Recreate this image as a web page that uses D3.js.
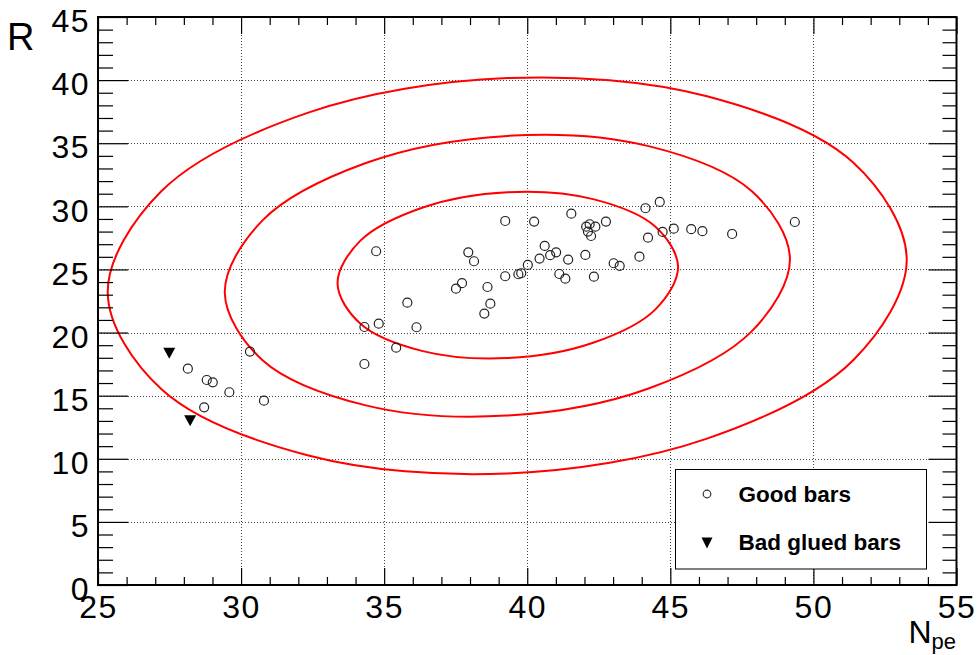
<!DOCTYPE html>
<html>
<head>
<meta charset="utf-8">
<script src="https://cdn.jsdelivr.net/npm/d3@7"></script>
<style>
  body { margin: 0; background: #fff; }
  svg { display: block; font-family: "Liberation Sans", Arial, sans-serif; }
</style>
</head>
<body>
<div id="chart"></div>
<script>
// measured points, [Npe, R]
var goodBars = [
    [28.14, 17.14], [28.80, 16.24], [29.01, 16.06], [29.59, 15.27], [28.71, 14.08],
    [30.31, 18.49], [30.80, 14.60],
    [34.72, 26.44], [37.94, 26.36], [38.14, 25.65], [34.31, 20.44], [34.81, 20.70],
    [36.13, 20.42], [35.81, 22.37], [35.42, 18.80], [34.31, 17.51], [37.72, 23.91],
    [37.51, 23.48], [38.61, 23.61], [38.71, 22.29], [38.50, 21.50], [39.23, 24.46],
    [39.23, 28.84], [40.24, 28.79], [39.69, 24.62], [39.79, 24.70], [40.02, 25.36],
    [40.43, 25.86], [40.61, 26.86], [40.80, 26.13], [41.01, 26.36], [41.43, 25.78],
    [41.12, 24.64], [41.33, 24.27], [41.54, 29.42], [42.03, 26.15], [42.33, 24.43],
    [42.06, 28.39], [42.18, 28.58], [42.38, 28.39], [42.12, 28.00], [42.23, 27.65],
    [42.75, 28.79], [43.02, 25.49], [43.23, 25.28], [43.92, 26.01], [44.13, 29.85],
    [44.22, 27.52], [44.63, 30.35], [44.73, 27.97], [45.12, 28.23], [45.73, 28.19],
    [46.12, 28.03], [47.16, 27.81], [49.35, 28.76]
];

var badGluedBars = [
    [27.49, 18.36], [28.22, 13.02]
];

// contour lines
var contourInner = [
    [45.27, 25.20], [44.47, 28.40], [42.30, 30.57], [39.32, 31.12], [36.35, 29.91], [34.17, 27.28],
    [33.37, 23.90], [34.17, 20.70], [36.35, 18.53], [39.32, 17.98], [42.30, 19.19], [44.47, 21.82]
];
var contourMiddle = [
    [49.18, 25.83], [47.85, 31.19], [44.24, 34.77], [39.30, 35.58], [34.36, 33.43], [30.75, 28.89],
    [29.43, 23.17], [30.75, 17.81], [34.36, 14.23], [39.30, 13.42], [44.24, 15.57], [47.85, 20.11]
];
var contourOuter = [
    [53.26, 25.82], [51.39, 33.47], [46.28, 38.72], [39.30, 40.16], [32.32, 37.40], [27.21, 31.19],
    [25.34, 23.18], [27.21, 15.53], [32.32, 10.28], [39.30, 8.84], [46.28, 11.60], [51.39, 17.81]
];

var xMajor = [25, 30, 35, 40, 45, 50, 55];
var yMajor = [0, 5, 10, 15, 20, 25, 30, 35, 40, 45];

var width = 979, height = 655;
var plotLeft = 98, plotRight = 956.5, plotTop = 17, plotBottom = 585;

var svg = d3.select("#chart")
    .append("svg")
    .attr("width", width)
    .attr("height", height);

svg.append("rect")
    .attr("width", width)
    .attr("height", height)
    .attr("fill", "#fff");

var x = d3.scaleLinear().domain([25, 55]).range([plotLeft, plotRight]);
var y = d3.scaleLinear().domain([0, 45]).range([plotBottom, plotTop]);

// grid
var grid = svg.append("g")
    .attr("stroke", "#444")
    .attr("stroke-width", 1)
    .attr("stroke-dasharray", "1,2");
grid.selectAll("line.gx")
    .data(xMajor.slice(1, -1))
    .enter()
    .append("line")
    .attr("x1", function(d) { return Math.round(x(d)) + 0.5; })
    .attr("x2", function(d) { return Math.round(x(d)) + 0.5; })
    .attr("y1", plotTop)
    .attr("y2", plotBottom);
grid.selectAll("line.gy")
    .data(yMajor.slice(1, -1))
    .enter()
    .append("line")
    .attr("y1", function(d) { return Math.round(y(d)) + 0.5; })
    .attr("y2", function(d) { return Math.round(y(d)) + 0.5; })
    .attr("x1", plotLeft)
    .attr("x2", plotRight);

// contours
var contourLine = d3.line()
    .x(function(d) { return x(d[0]); })
    .y(function(d) { return y(d[1]); })
    .curve(d3.curveCatmullRomClosed.alpha(0.5));

svg.append("g")
    .selectAll("path")
    .data([contourOuter, contourMiddle, contourInner])
    .enter()
    .append("path")
    .attr("d", contourLine)
    .attr("fill", "none")
    .attr("stroke", "#ff0000")
    .attr("stroke-width", 2);

// markers
svg.append("g")
    .selectAll("circle")
    .data(goodBars)
    .enter()
    .append("circle")
    .attr("cx", function(d) { return x(d[0]); })
    .attr("cy", function(d) { return y(d[1]); })
    .attr("r", 4.5)
    .attr("fill", "none")
    .attr("stroke", "#222")
    .attr("stroke-width", 1.2);

var downTriangle = function(cx, cy, w, h) {
    return "M" + (cx - w / 2) + "," + (cy - h / 2) + "L" + (cx + w / 2) + "," + (cy - h / 2) +
        "L" + cx + "," + (cy + h / 2) + "Z";
};

svg.append("g")
    .selectAll("path")
    .data(badGluedBars)
    .enter()
    .append("path")
    .attr("d", function(d) { return downTriangle(x(d[0]), y(d[1]), 12, 11); })
    .attr("fill", "#000");

// axes, ticks inside the frame
var fontSize = 32;
var xMinor = d3.range(25, 56, 1).filter(function(v) { return v % 5 !== 0; });
var yMinor = d3.range(0, 46, 1).filter(function(v) { return v % 5 !== 0; });

var styleAxis = function(g) {
    g.select(".domain").remove();
    g.selectAll(".tick line").attr("stroke", "#000").attr("stroke-width", 1.2);
};

svg.append("g")
    .attr("transform", "translate(0," + plotBottom + ")")
    .call(d3.axisBottom(x).tickValues(xMajor).tickSize(-17).tickPadding(10))
    .call(styleAxis)
    .selectAll("text")
        .attr("font-size", fontSize)
        .attr("font-family", "Liberation Sans, Arial, sans-serif")
        .attr("letter-spacing", "1.5px")
        .attr("fill", "#000");

svg.append("g")
    .attr("transform", "translate(0," + plotBottom + ")")
    .call(d3.axisBottom(x).tickValues(xMinor).tickSize(-8).tickFormat(""))
    .call(styleAxis);

svg.append("g")
    .attr("transform", "translate(0," + plotTop + ")")
    .call(d3.axisTop(x).tickValues(xMajor).tickSize(-17).tickFormat(""))
    .call(styleAxis);

svg.append("g")
    .attr("transform", "translate(0," + plotTop + ")")
    .call(d3.axisTop(x).tickValues(xMinor).tickSize(-8).tickFormat(""))
    .call(styleAxis);

svg.append("g")
    .attr("transform", "translate(" + plotLeft + ",0)")
    .call(d3.axisLeft(y).tickValues(yMajor).tickSize(-30).tickPadding(8))
    .call(styleAxis)
    .selectAll("text")
        .attr("font-size", fontSize)
        .attr("font-family", "Liberation Sans, Arial, sans-serif")
        .attr("letter-spacing", "1.5px")
        .attr("dy", "0.46em")
        .attr("fill", "#000");

svg.append("g")
    .attr("transform", "translate(" + plotLeft + ",0)")
    .call(d3.axisLeft(y).tickValues(yMinor).tickSize(-15).tickFormat(""))
    .call(styleAxis);

svg.append("g")
    .attr("transform", "translate(" + plotRight + ",0)")
    .call(d3.axisRight(y).tickValues(yMajor).tickSize(-28).tickFormat(""))
    .call(styleAxis);

svg.append("g")
    .attr("transform", "translate(" + plotRight + ",0)")
    .call(d3.axisRight(y).tickValues(yMinor).tickSize(-14).tickFormat(""))
    .call(styleAxis);

// frame
svg.append("rect")
    .attr("x", plotLeft)
    .attr("y", plotTop)
    .attr("width", plotRight - plotLeft)
    .attr("height", plotBottom - plotTop)
    .attr("fill", "none")
    .attr("stroke", "#000")
    .attr("stroke-width", 2);

// axis titles
svg.append("text")
    .attr("x", 7)
    .attr("y", 50)
    .attr("font-size", 38)
    .attr("fill", "#000")
    .text("R");

var xTitle = svg.append("text")
    .attr("x", 956)
    .attr("y", 643)
    .attr("text-anchor", "end")
    .attr("font-size", 32)
    .attr("fill", "#000");
xTitle.append("tspan").text("N");
xTitle.append("tspan").attr("font-size", 22).attr("dy", 6).text("pe");

// legend
var legend = svg.append("g");
legend.append("rect")
    .attr("x", 675.5)
    .attr("y", 469.5)
    .attr("width", 251)
    .attr("height", 99.5)
    .attr("fill", "#fff")
    .attr("stroke", "#000")
    .attr("stroke-width", 1);

legend.append("circle")
    .attr("cx", 707)
    .attr("cy", 494)
    .attr("r", 3.8)
    .attr("fill", "none")
    .attr("stroke", "#333")
    .attr("stroke-width", 1.2);

legend.append("path")
    .attr("d", downTriangle(707, 543, 11, 11))
    .attr("fill", "#000");

legend.selectAll("text")
    .data(["Good bars", "Bad glued bars"])
    .enter()
    .append("text")
    .attr("x", 738.5)
    .attr("y", function(d, i) { return i === 0 ? 502 : 550; })
    .attr("font-size", 22.5)
    .attr("font-weight", "bold")
    .attr("fill", "#000")
    .text(function(d) { return d; });
</script>
</body>
</html>
